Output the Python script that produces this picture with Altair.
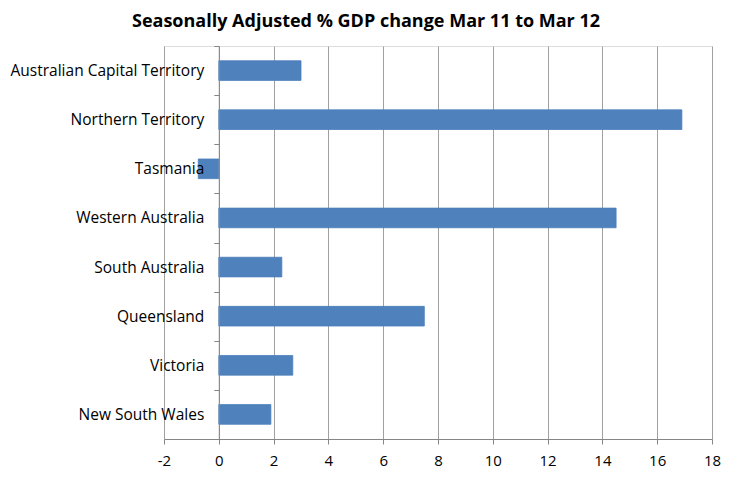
import altair as alt
import pandas as pd

states = [
    "Australian Capital Territory",
    "Northern Territory",
    "Tasmania",
    "Western Australia",
    "South Australia",
    "Queensland",
    "Victoria",
    "New South Wales",
]
gdp_change = [3.0, 16.9, -0.75, 14.5, 2.3, 7.5, 2.7, 1.9]
x_ticks = [-2, 0, 2, 4, 6, 8, 10, 12, 14, 16, 18]

df = pd.DataFrame({"state": states, "change": gdp_change})

W, H = 548, 393
FONT = "Open Sans"

chart = (
    alt.Chart(df)
    .mark_bar(color="#4F81BD", stroke="#4A7EBB", strokeWidth=0.8,
              height=alt.RelativeBandSize(0.4))
    .encode(
        x=alt.X(
            "change:Q",
            scale=alt.Scale(domain=[-2, 18], nice=False, zero=False),
            axis=alt.Axis(
                values=x_ticks,
                title=None,
                grid=True,
                gridColor="#A0A0A0",
                gridWidth=1,
                domainColor="#868686",
                tickColor="#868686",
                tickSize=5,
                labelFont=FONT,
                labelFontSize=15,
                labelColor="#000000",
                labelPadding=9,
                labelFlush=False,
                labelExpr="'' + datum.value",
            ),
        ),
        y=alt.Y(
            "state:N",
            sort=states,
            scale=alt.Scale(paddingInner=0, paddingOuter=0),
            axis=alt.Axis(
                title=None,
                offset=-W * 2 / 20,
                domainColor="#868686",
                tickColor="#868686",
                tickSize=5,
                tickBand="extent",
                labelFont=FONT,
                labelFontSize=15.5,
                labelColor="#000000",
                labelPadding=10,
                labelLimit=400,
                zindex=1,
            ),
        ),
    )
    .properties(
        width=W,
        height=H,
        autosize="none",
        padding={"left": 156, "top": 38, "right": 14, "bottom": 33},
        title=alt.TitleParams(
            "Seasonally Adjusted % GDP change Mar 11 to Mar 12",
            font=FONT,
            fontSize=18,
            fontWeight="bold",
            color="#000000",
            anchor="middle",
            dx=-72,
            offset=8,
        ),
    )
    .configure_view(stroke=None)
    .configure(background="white")
)

chart.save("out.html", embed_options={"renderer": "svg", "actions": False})
